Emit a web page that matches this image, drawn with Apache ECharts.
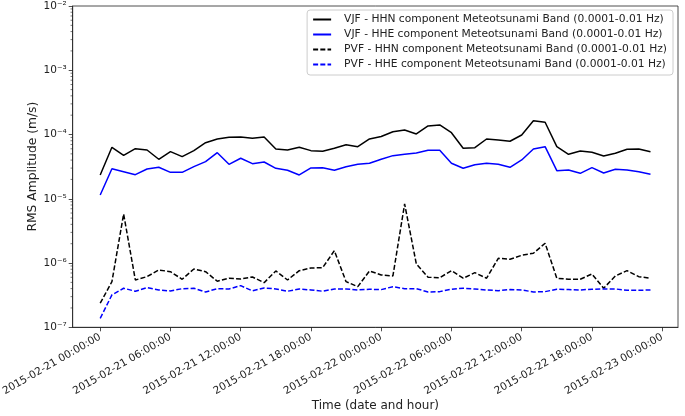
<!DOCTYPE html>
<html lang="en">
<head>
<meta charset="UTF-8">
<title>RMS Amplitude</title>
<script src="https://cdn.jsdelivr.net/npm/echarts@6/dist/echarts.min.js"></script>
<style>
  html, body { margin: 0; padding: 0; background: #fff; }
  #chart { width: 685px; height: 416px; }
</style>
</head>
<body>
<div id="chart"></div>
<script>
// hourly RMS amplitudes (m/s), 2015-02-21 00:00 .. 2015-02-22 23:00
var vjfHHN = [2.35e-5, 6.33e-5, 4.75e-5, 6.02e-5, 5.75e-5, 4.12e-5, 5.41e-5, 4.52e-5, 5.61e-5, 7.46e-5,
  8.52e-5, 9.06e-5, 9.16e-5, 8.74e-5, 9.16e-5, 5.96e-5, 5.75e-5, 6.33e-5, 5.61e-5, 5.49e-5,
  6.11e-5, 6.95e-5, 6.47e-5, 8.52e-5, 9.32e-5, 1.107e-4, 1.177e-4, 1.02e-4, 1.358e-4, 1.407e-4,
  1.068e-4, 6.11e-5, 6.24e-5, 8.52e-5, 8.22e-5, 7.85e-5, 9.84e-5, 1.642e-4, 1.55e-4, 6.47e-5,
  4.93e-5, 5.54e-5, 5.29e-5, 4.64e-5, 5.11e-5, 5.89e-5, 5.96e-5, 5.41e-5];
var vjfHHE = [1.146e-5, 2.94e-5, 2.64e-5, 2.37e-5, 2.91e-5, 3.09e-5, 2.58e-5, 2.58e-5, 3.16e-5, 3.78e-5,
  5.22e-5, 3.44e-5, 4.27e-5, 3.52e-5, 3.74e-5, 2.98e-5, 2.78e-5, 2.35e-5, 3.02e-5, 3.05e-5,
  2.78e-5, 3.16e-5, 3.44e-5, 3.57e-5, 4.13e-5, 4.69e-5, 4.93e-5, 5.16e-5, 5.69e-5, 5.69e-5,
  3.57e-5, 2.98e-5, 3.39e-5, 3.57e-5, 3.44e-5, 3.09e-5, 4.02e-5, 5.96e-5, 6.47e-5, 2.74e-5,
  2.81e-5, 2.49e-5, 3.05e-5, 2.52e-5, 2.88e-5, 2.81e-5, 2.64e-5, 2.41e-5];
var pvfHHN = [2.37e-7, 5.13e-7, 5.80e-6, 5.45e-7, 6.14e-7, 7.80e-7, 7.34e-7, 5.59e-7, 8.09e-7, 7.34e-7,
  5.21e-7, 5.80e-7, 5.65e-7, 6.07e-7, 4.95e-7, 7.53e-7, 5.45e-7, 7.61e-7, 8.38e-7, 8.47e-7,
  1.558e-6, 5.13e-7, 4.29e-7, 7.53e-7, 6.52e-7, 6.30e-7, 8.30e-6, 9.68e-7, 6.01e-7, 5.92e-7,
  7.61e-7, 5.80e-7, 7.08e-7, 5.80e-7, 1.186e-6, 1.145e-6, 1.321e-6, 1.419e-6, 2.03e-6, 5.80e-7,
  5.59e-7, 5.59e-7, 6.76e-7, 4.05e-7, 6.30e-7, 7.61e-7, 6.14e-7, 5.80e-7];
var pvfHHE = [1.38e-7, 3.19e-7, 4.05e-7, 3.64e-7, 4.14e-7, 3.81e-7, 3.68e-7, 3.99e-7, 4.05e-7, 3.55e-7,
  3.99e-7, 3.95e-7, 4.45e-7, 3.68e-7, 4.10e-7, 3.95e-7, 3.64e-7, 3.95e-7, 3.81e-7, 3.64e-7,
  3.95e-7, 3.95e-7, 3.81e-7, 3.91e-7, 3.86e-7, 4.29e-7, 3.99e-7, 3.99e-7, 3.55e-7, 3.59e-7,
  3.91e-7, 4.05e-7, 3.95e-7, 3.81e-7, 3.72e-7, 3.86e-7, 3.81e-7, 3.55e-7, 3.59e-7, 3.91e-7,
  3.86e-7, 3.81e-7, 3.91e-7, 3.95e-7, 3.95e-7, 3.77e-7, 3.77e-7, 3.81e-7];

var seriesNames = [
  'VJF - HHN component Meteotsunami Band (0.0001-0.01 Hz)',
  'VJF - HHE component Meteotsunami Band (0.0001-0.01 Hz)',
  'PVF - HHN component Meteotsunami Band (0.0001-0.01 Hz)',
  'PVF - HHE component Meteotsunami Band (0.0001-0.01 Hz)'
];
var xTickLabels = ['2015-02-21 00:00:00', '2015-02-21 06:00:00', '2015-02-21 12:00:00',
  '2015-02-21 18:00:00', '2015-02-22 00:00:00', '2015-02-22 06:00:00', '2015-02-22 12:00:00',
  '2015-02-22 18:00:00', '2015-02-23 00:00:00'];

var HOUR = 3600 * 1000;
var t0 = Date.UTC(2015, 1, 21, 0, 0, 0);
var times = vjfHHN.map(function (v, i) { return t0 + i * HOUR; });
var tickVals = xTickLabels.map(function (s) { return Date.parse(s.replace(' ', 'T') + 'Z'); });
var labelOf = {};
tickVals.forEach(function (v, i) { labelOf[v] = xTickLabels[i]; });

// matplotlib-like 5% margins
var xMin = t0 - 2.35 * HOUR, xMax = t0 + 49.35 * HOUR;

// minor log ticks 2..9 per decade
var minorTicks = [];
for (var e = -7; e < -2; e++) {
  for (var k = 2; k <= 9; k++) minorTicks.push([xMin, k * Math.pow(10, e)]);
}

function pair(arr) { return arr.map(function (v, i) { return [times[i], v]; }); }

var sup = { '-': '\u207b', '0': '\u2070', '1': '\u00b9', '2': '\u00b2', '3': '\u00b3', '4': '\u2074',
  '5': '\u2075', '6': '\u2076', '7': '\u2077', '8': '\u2078', '9': '\u2079' };
function powLabel(v) {
  var ex = String(Math.round(Math.log10(v)));
  return '10' + ex.split('').map(function (c) { return sup[c]; }).join('');
}

var font = 'DejaVu Sans';
var chart = echarts.init(document.getElementById('chart'));
var option = {
  animation: false,
  textStyle: { fontFamily: font },
  grid: { left: 72.7, right: 7, top: 6, bottom: 88.7, outerBoundsMode: 'none', containLabel: false,
    show: true, borderColor: '#222', borderWidth: 0.8 },
  legend: {
    orient: 'vertical', right: 12, top: 10,
    data: seriesNames,
    itemWidth: 18, itemHeight: 10, itemGap: 4,
    padding: [4, 6, 5, 5],
    borderColor: '#ccc', borderWidth: 1, borderRadius: 3,
    backgroundColor: 'rgba(255,255,255,0.8)',
    itemStyle: { color: 'transparent', borderColor: 'transparent', borderWidth: 0 },
    textStyle: { fontFamily: font, fontSize: 10.7, color: '#222', padding: [0, 0, 0, 8] }
  },
  xAxis: {
    type: 'value', min: xMin, max: xMax,
    name: 'Time (date and hour)', nameLocation: 'middle', nameGap: 73, nameMoveOverlap: false,
    nameTextStyle: { fontFamily: font, fontSize: 12, color: '#222' },
    axisLine: { lineStyle: { color: '#222', width: 0.8 } },
    axisTick: { show: true, length: 4, inside: false, customValues: tickVals, lineStyle: { color: '#222', width: 0.8 } },
    axisLabel: {
      customValues: tickVals, rotate: 30, margin: 9,
      fontFamily: font, fontSize: 10.5, color: '#222',
      formatter: function (v) { return labelOf[v] || ''; }
    },
    splitLine: { show: false }
  },
  yAxis: {
    type: 'log', logBase: 10, min: 1e-7, max: 1e-2,
    name: 'RMS Amplitude (m/s)', nameLocation: 'middle', nameGap: 34, nameMoveOverlap: false,
    nameTextStyle: { fontFamily: font, fontSize: 12.3, color: '#222' },
    axisLine: { show: true, lineStyle: { color: '#222', width: 0.8 } },
    axisTick: { show: true, length: 4, lineStyle: { color: '#222', width: 0.8 } },
    axisLabel: { fontFamily: font, fontSize: 10.5, color: '#222', margin: 6, formatter: powLabel },
    splitLine: { show: false }
  },
  series: [
    { name: seriesNames[0], type: 'line', data: pair(vjfHHN), symbol: 'none',
      lineStyle: { color: '#000', width: 1.5 }, itemStyle: { color: '#000' } },
    { name: seriesNames[1], type: 'line', data: pair(vjfHHE), symbol: 'none',
      lineStyle: { color: '#0000ff', width: 1.5 }, itemStyle: { color: '#0000ff' } },
    { name: seriesNames[2], type: 'line', data: pair(pvfHHN), symbol: 'none',
      lineStyle: { color: '#000', width: 1.5, type: [5, 2.2] }, itemStyle: { color: '#000' } },
    { name: seriesNames[3], type: 'line', data: pair(pvfHHE), symbol: 'none',
      lineStyle: { color: '#0000ff', width: 1.5, type: [5, 2.2] }, itemStyle: { color: '#0000ff' } },
    {
      name: 'minor', type: 'custom', data: minorTicks, silent: true, clip: false,
      renderItem: function (params, api) {
        var p = api.coord([api.value(0), api.value(1)]);
        return { type: 'line', shape: { x1: p[0] - 2.2, y1: p[1], x2: p[0], y2: p[1] },
          style: { stroke: '#222', lineWidth: 0.6 } };
      }
    }
  ]
};
chart.setOption(option);
</script>
</body>
</html>
